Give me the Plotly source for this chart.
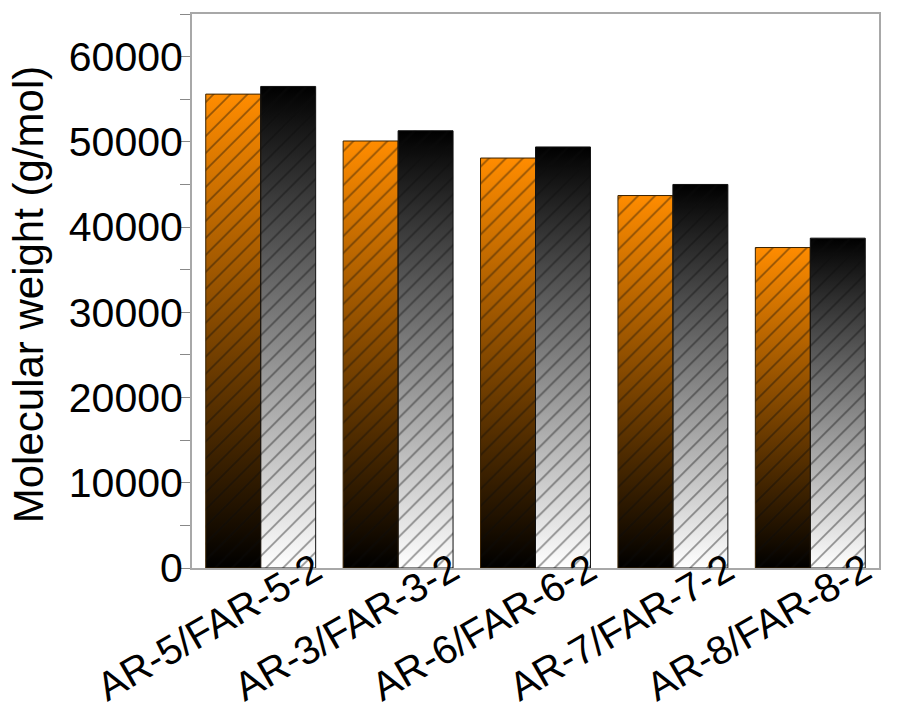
import plotly.graph_objects as go

# Sample pairs and their molecular weights (g/mol)
categories = ["AR-5/FAR-5-2", "AR-3/FAR-3-2", "AR-6/FAR-6-2", "AR-7/FAR-7-2", "AR-8/FAR-8-2"]
mw_ar = [55600, 50100, 48100, 43700, 37600]
mw_far = [56500, 51300, 49400, 45000, 38700]
y_ticks = [0, 10000, 20000, 30000, 40000, 50000, 60000]
y_tick_labels = [str(v) for v in y_ticks]

BAR_W = 0.4
FONT = "Liberation Sans, Arial, sans-serif"
AXIS_GREY = "#a8a8a8"

series = [
    dict(values=mw_ar, offset=-BAR_W,
         scale=[[0, "#000000"], [1, "#ff8c00"]], edge="#3a2200"),
    dict(values=mw_far, offset=0.0,
         scale=[[0, "#ffffff"], [1, "#000000"]], edge="#111111"),
]

fig = go.Figure()

# Gradient body of each bar (vertical gradient spans each bar's own height)
for s in series:
    for i, v in enumerate(s["values"]):
        x0 = i + s["offset"]
        x1 = x0 + BAR_W
        fig.add_trace(go.Scatter(
            x=[x0, x1, x1, x0, x0], y=[0, 0, v, v, 0],
            mode="lines", fill="toself", line=dict(width=0),
            fillgradient=dict(type="vertical", colorscale=s["scale"]),
            hoverinfo="skip", showlegend=False, xaxis="x", yaxis="y",
        ))

# Hatched outline bars drawn on an overlaid axis pair so they sit above the gradients
for s in series:
    fig.add_trace(go.Bar(
        x=list(range(len(categories))), y=s["values"],
        width=BAR_W, offset=s["offset"],
        marker=dict(
            color="rgba(0,0,0,0)",
            line=dict(color=s["edge"], width=1),
            pattern=dict(shape="/", fgcolor="rgba(10,10,10,0.85)",
                         bgcolor="rgba(0,0,0,0)", size=12, solidity=0.14,
                         fillmode="overlay"),
        ),
        xaxis="x2", yaxis="y2", showlegend=False,
    ))

x_range = [-0.5, len(categories) - 0.5]
y_range = [0, 65000]

fig.update_layout(
    width=899, height=713,
    margin=dict(l=192, r=20, t=14, b=145),
    paper_bgcolor="white", plot_bgcolor="white",
    font=dict(family=FONT, color="black"),
    barmode="overlay",
    xaxis=dict(
        range=x_range, tickvals=list(range(len(categories))), ticktext=categories,
        tickangle=-30, tickfont=dict(size=40), ticks="", ticklabelshift=54,
        ticklabelstandoff=-39, automargin=False,
        showline=True, linecolor=AXIS_GREY, linewidth=2, mirror=True,
        showgrid=False, zeroline=False,
    ),
    yaxis=dict(
        range=y_range, tickvals=y_ticks, ticktext=y_tick_labels,
        tickfont=dict(size=41), automargin=False, ticklabelstandoff=-11,
        ticks="outside", ticklen=10, tickwidth=1, tickcolor="#888888",
        minor=dict(dtick=5000, ticks="outside", ticklen=10, tickcolor="#888888", tickwidth=1),
        showline=True, linecolor=AXIS_GREY, linewidth=2, mirror=True,
        showgrid=False, zeroline=False,
    ),
    xaxis2=dict(range=x_range, overlaying="x", visible=False),
    yaxis2=dict(range=y_range, overlaying="y", visible=False),
    annotations=[dict(
        text="Molecular weight (g/mol)", textangle=-90,
        xref="paper", yref="paper", x=-0.238, y=0.495,
        xanchor="center", yanchor="middle", showarrow=False,
        font=dict(size=42),
    )],
)

fig.write_html("out.html")
